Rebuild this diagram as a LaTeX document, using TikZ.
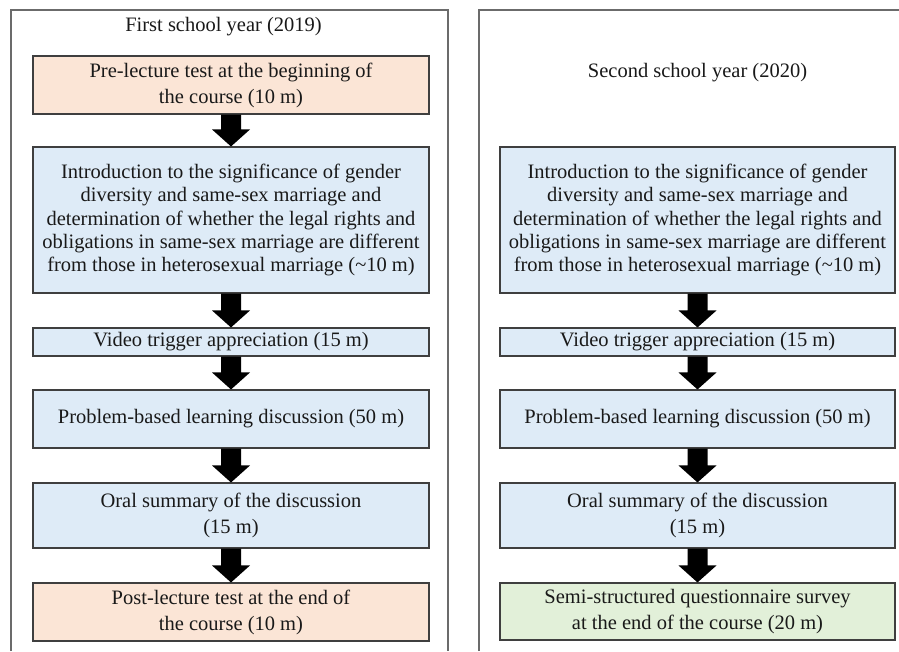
\documentclass[tikz,border=0pt]{standalone}
\usepackage{fontspec}
\setmainfont{Liberation Serif}
\usetikzlibrary{calc}
\definecolor{peach}{HTML}{FBE5D6}
\definecolor{paleblue}{HTML}{DEEBF7}
\definecolor{palegreen}{HTML}{E2F0D9}
\definecolor{boxline}{HTML}{3F3F3F}
\definecolor{frameline}{HTML}{6B6B6B}
\newcommand\blockarrow[2]{%
  \fill[black] let \p1=(#1.south), \p2=(#2.north) in
    (\x1-10pt,\y1) -- (\x1+10pt,\y1) -- (\x1+10pt,\y2+17pt) -- (\x1+19pt,\y2+17pt)
    -- (\x1,\y2) -- (\x1-19pt,\y2+17pt) -- (\x1-10pt,\y2+17pt) -- cycle;}
\begin{document}
\begin{tikzpicture}[x=1pt,y=-1pt,
  frame/.style={draw=frameline, line width=1.5pt},
  box/.style={draw=boxline, line width=1.1pt, align=center, inner sep=0pt,
    text=black!90, font=\fontsize{20.5}{23.3}\selectfont},
  twoline/.style={font=\fontsize{20.5}{26}\selectfont},
  lbox/.style={box, minimum width=396pt},
  rbox/.style={box, minimum width=395pt},
  title/.style={font=\fontsize{20.5}{23.3}\selectfont, text=black!90, inner sep=0pt}
]
\useasboundingbox (0,0) rectangle (899,651);
\fill[white] (0,0) rectangle (899,651);
% frames
\draw[frame] (11,651) -- (11,10) -- (448,10) -- (448,651);
\draw[frame] (479,651) -- (479,10) -- (899,10);
% titles
\node[title] (T1) at (223.5,27) {First school year (2019)};
\node[title] (T2) at (697.5,73) {Second school year (2020)};
% left column
\node[lbox, twoline, fill=peach, minimum height=58pt] (L1) at (231,85) {Pre-lecture test at the beginning of\\the course (10 m)};
\node[lbox, fill=paleblue, minimum height=146pt] (L2) at (231,220) {Introduction to the significance of gender\\diversity and same-sex marriage and\\determination of whether the legal rights and\\obligations in same-sex marriage are different\\from those in heterosexual marriage (\textasciitilde10 m)};
\node[lbox, fill=paleblue, minimum height=28pt] (L3) at (231,342) {Video trigger appreciation (15 m)};
\node[lbox, fill=paleblue, minimum height=58pt] (L4) at (231,419) {Problem-based learning discussion (50 m)};
\node[lbox, twoline, fill=paleblue, minimum height=65pt] (L5) at (231,515.5) {Oral summary of the discussion\\(15 m)};
\node[lbox, twoline, fill=peach, minimum height=58pt] (L6) at (231,612) {Post-lecture test at the end of\\the course (10 m)};
% right column
\node[rbox, fill=paleblue, minimum height=146pt] (R2) at (697.5,220) {Introduction to the significance of gender\\diversity and same-sex marriage and\\determination of whether the legal rights and\\obligations in same-sex marriage are different\\from those in heterosexual marriage (\textasciitilde10 m)};
\node[rbox, fill=paleblue, minimum height=28pt] (R3) at (697.5,342) {Video trigger appreciation (15 m)};
\node[rbox, fill=paleblue, minimum height=58pt] (R4) at (697.5,419) {Problem-based learning discussion (50 m)};
\node[rbox, twoline, fill=paleblue, minimum height=65pt] (R5) at (697.5,515.5) {Oral summary of the discussion\\(15 m)};
\node[rbox, twoline, fill=palegreen, minimum height=57pt] (R6) at (697.5,611.5) {Semi-structured questionnaire survey\\at the end of the course (20 m)};
% arrows
\blockarrow{L1}{L2}
\blockarrow{L2}{L3}
\blockarrow{L3}{L4}
\blockarrow{L4}{L5}
\blockarrow{L5}{L6}
\blockarrow{R2}{R3}
\blockarrow{R3}{R4}
\blockarrow{R4}{R5}
\blockarrow{R5}{R6}
\end{tikzpicture}
\end{document}
